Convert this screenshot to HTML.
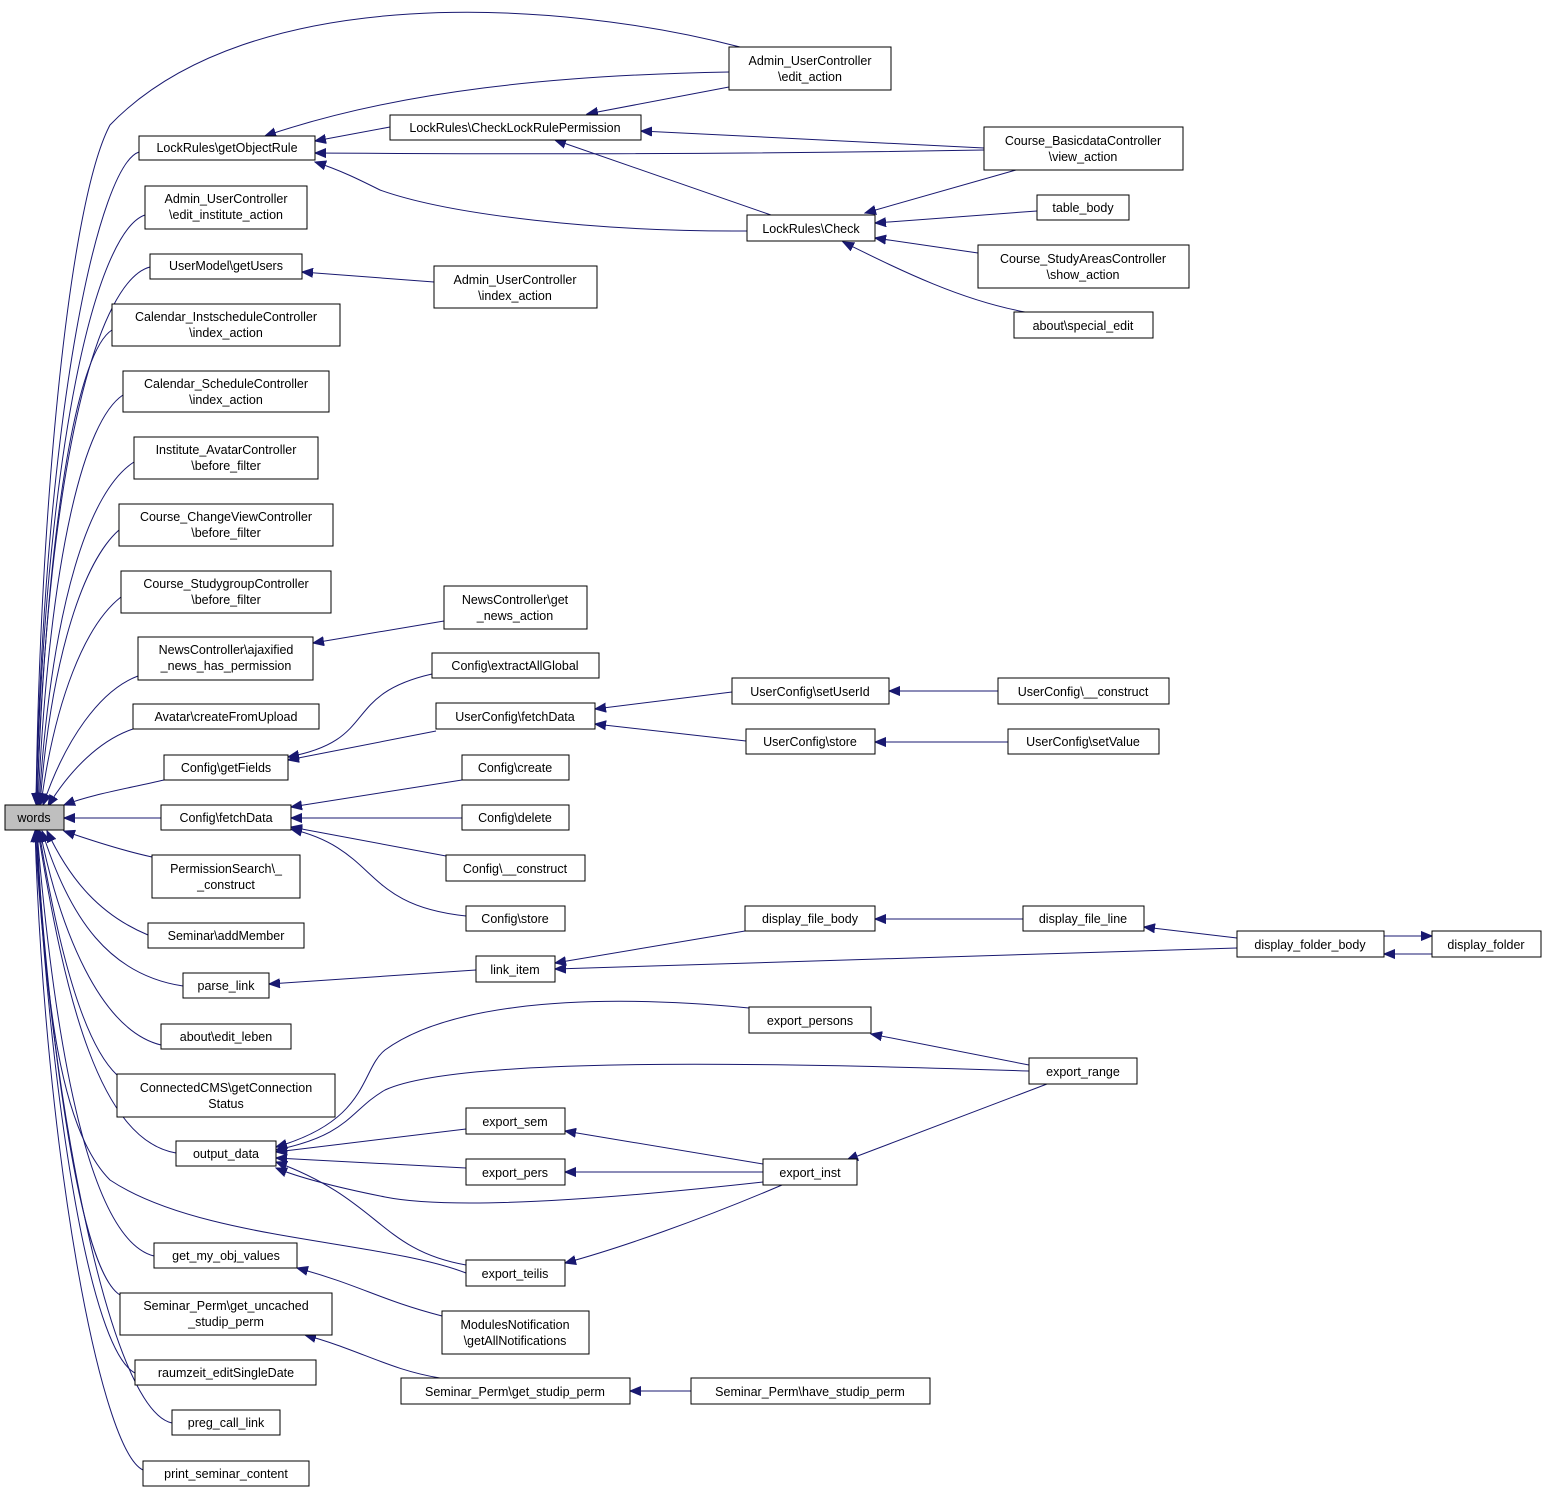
<!DOCTYPE html>
<html><head><meta charset="utf-8"><style>
html,body{margin:0;padding:0;background:#fff;}
svg{display:block;}
text{font-family:"Liberation Sans",sans-serif;font-size:12.5px;fill:#000;text-anchor:middle;}
.n{fill:#fff;stroke:#000;stroke-width:1;}
.e{fill:none;stroke:#191970;stroke-width:1;marker-end:url(#a);}
</style></head><body>
<svg width="1547" height="1493" viewBox="0 0 1547 1493" xmlns="http://www.w3.org/2000/svg">
<defs><marker id="a" markerWidth="12" markerHeight="10" refX="11" refY="5" orient="auto" markerUnits="userSpaceOnUse"><path d="M0,0.5 L11,5 L0,9.5 Z" fill="#191970" stroke="#191970"/></marker></defs>

<!-- edges to words -->
<path class="e" d="M740,47 C560,0 250,-20 110,125 C70,200 40,500 36,804"/>
<path class="e" d="M139,152 C100,165 45,400 36,804"/>
<path class="e" d="M145,215 C100,230 47,420 36,804"/>
<path class="e" d="M150,267 C100,280 48,450 37,804"/>
<path class="e" d="M112,330 C80,350 48,500 37,804"/>
<path class="e" d="M123,395 C85,420 50,550 38,804"/>
<path class="e" d="M134,462 C90,490 52,600 39,804"/>
<path class="e" d="M119,530 C85,560 52,650 40,804"/>
<path class="e" d="M121,597 C85,625 55,700 41,804"/>
<path class="e" d="M138,676 C100,690 65,740 43,805"/>
<path class="e" d="M133,729 C100,740 70,770 48,806"/>
<path class="e" d="M164,780 C120,790 90,795 64,805"/>
<path class="e" d="M161,818 L64,818"/>
<path class="e" d="M152,857 C120,850 90,840 64,831"/>
<path class="e" d="M148,935 C100,915 70,880 47,831"/>
<path class="e" d="M183,986 C110,975 70,920 42,831"/>
<path class="e" d="M161,1045 C100,1030 60,930 40,831"/>
<path class="e" d="M117,1075 C80,1040 55,930 39,831"/>
<path class="e" d="M176,1153 C100,1140 65,1000 38,831"/>
<path class="e" d="M466,1273 C380,1240 200,1240 110,1180 C60,1130 45,1000 37,831"/>
<path class="e" d="M154,1256 C90,1240 55,1050 37,831"/>
<path class="e" d="M120,1295 C80,1270 50,1050 36,831"/>
<path class="e" d="M135,1373 C90,1350 50,1100 36,831"/>
<path class="e" d="M172,1423 C110,1410 50,1100 35,831"/>
<path class="e" d="M143,1470 C100,1450 45,1150 35,831"/>

<!-- getObjectRule -->
<path class="e" d="M729,72 C560,75 400,90 265,136"/>
<path class="e" d="M390,127 L315,141"/>
<path class="e" d="M984,150 C700,155 500,154 315,153"/>
<path class="e" d="M747,231 C600,232 450,215 380,190 C360,180 340,170 315,162"/>
<!-- CheckLockRulePermission -->
<path class="e" d="M729,87 L587,114"/>
<path class="e" d="M984,148 L641,131"/>
<path class="e" d="M771,215 L555,140"/>
<!-- Check -->
<path class="e" d="M1016,170 L865,213"/>
<path class="e" d="M1037,211 L875,223"/>
<path class="e" d="M978,253 L875,238"/>
<path class="e" d="M1025,312 C960,300 900,270 843,242"/>
<!-- misc -->
<path class="e" d="M434,282 L302,272"/>
<path class="e" d="M444,621 L313,643"/>
<path class="e" d="M432,674 C340,695 380,740 288,757"/>
<path class="e" d="M436,731 L288,760"/>
<path class="e" d="M732,692 L595,709"/>
<path class="e" d="M746,741 L595,724"/>
<path class="e" d="M998,691 L889,691"/>
<path class="e" d="M1008,742 L875,742"/>
<path class="e" d="M462,780 L291,807"/>
<path class="e" d="M462,818 L291,818"/>
<path class="e" d="M446,856 L291,827"/>
<path class="e" d="M466,916 C360,905 380,850 291,829"/>
<path class="e" d="M476,970 L269,984"/>
<path class="e" d="M745,931 L555,963"/>
<path class="e" d="M1237,948 L555,969"/>
<path class="e" d="M1023,919 L875,919"/>
<path class="e" d="M1237,938 L1144,927"/>
<path class="e" d="M1384,936 L1432,936"/>
<path class="e" d="M1432,954 L1384,954"/>
<!-- output_data -->
<path class="e" d="M749,1008 C560,990 440,1010 385,1050 C360,1070 370,1120 276,1147"/>
<path class="e" d="M1029,1071 C700,1060 450,1060 385,1090 C350,1110 350,1135 276,1150"/>
<path class="e" d="M466,1129 L276,1152"/>
<path class="e" d="M466,1168 L276,1158"/>
<path class="e" d="M763,1182 C600,1200 450,1210 385,1197 C340,1188 300,1178 276,1168"/>
<path class="e" d="M466,1265 C380,1250 380,1200 276,1162"/>
<path class="e" d="M1029,1065 L871,1034"/>
<path class="e" d="M1047,1084 L847,1160"/>
<path class="e" d="M763,1164 L565,1131"/>
<path class="e" d="M763,1172 L565,1172"/>
<path class="e" d="M782,1185 C700,1220 620,1248 565,1263"/>
<path class="e" d="M442,1316 C380,1300 360,1285 297,1268"/>
<path class="e" d="M440,1378 C390,1370 360,1350 305,1335"/>
<path class="e" d="M691,1391 L630,1391"/>

<!-- nodes -->
<rect x="5" y="805" width="59" height="25" fill="#bfbfbf" stroke="#000"/><text x="34" y="822">words</text>
<rect class="n" x="139" y="136" width="176" height="24"/><text x="227" y="152">LockRules\getObjectRule</text>
<rect class="n" x="145" y="186" width="162" height="43"/><text x="226" y="203">Admin_UserController</text><text x="226" y="219">\edit_institute_action</text>
<rect class="n" x="150" y="254" width="152" height="25"/><text x="226" y="270">UserModel\getUsers</text>
<rect class="n" x="112" y="304" width="228" height="42"/><text x="226" y="321">Calendar_InstscheduleController</text><text x="226" y="337">\index_action</text>
<rect class="n" x="123" y="371" width="206" height="41"/><text x="226" y="388">Calendar_ScheduleController</text><text x="226" y="404">\index_action</text>
<rect class="n" x="134" y="437" width="184" height="42"/><text x="226" y="454">Institute_AvatarController</text><text x="226" y="470">\before_filter</text>
<rect class="n" x="119" y="504" width="214" height="42"/><text x="226" y="521">Course_ChangeViewController</text><text x="226" y="537">\before_filter</text>
<rect class="n" x="121" y="571" width="210" height="42"/><text x="226" y="588">Course_StudygroupController</text><text x="226" y="604">\before_filter</text>
<rect class="n" x="138" y="637" width="175" height="43"/><text x="226" y="654">NewsController\ajaxified</text><text x="226" y="670">_news_has_permission</text>
<rect class="n" x="133" y="704" width="186" height="25"/><text x="226" y="721">Avatar\createFromUpload</text>
<rect class="n" x="164" y="755" width="124" height="25"/><text x="226" y="772">Config\getFields</text>
<rect class="n" x="161" y="805" width="130" height="25"/><text x="226" y="822">Config\fetchData</text>
<rect class="n" x="152" y="855" width="148" height="43"/><text x="226" y="873">PermissionSearch\_</text><text x="226" y="889">_construct</text>
<rect class="n" x="148" y="923" width="156" height="25"/><text x="226" y="940">Seminar\addMember</text>
<rect class="n" x="183" y="973" width="86" height="25"/><text x="226" y="990">parse_link</text>
<rect class="n" x="161" y="1024" width="130" height="25"/><text x="226" y="1041">about\edit_leben</text>
<rect class="n" x="117" y="1074" width="218" height="43"/><text x="226" y="1092">ConnectedCMS\getConnection</text><text x="226" y="1108">Status</text>
<rect class="n" x="176" y="1141" width="100" height="25"/><text x="226" y="1158">output_data</text>
<rect class="n" x="154" y="1243" width="143" height="25"/><text x="226" y="1260">get_my_obj_values</text>
<rect class="n" x="120" y="1293" width="212" height="42"/><text x="226" y="1310">Seminar_Perm\get_uncached</text><text x="226" y="1326">_studip_perm</text>
<rect class="n" x="135" y="1360" width="181" height="25"/><text x="226" y="1377">raumzeit_editSingleDate</text>
<rect class="n" x="172" y="1410" width="108" height="25"/><text x="226" y="1427">preg_call_link</text>
<rect class="n" x="143" y="1461" width="166" height="25"/><text x="226" y="1478">print_seminar_content</text>

<rect class="n" x="390" y="115" width="251" height="25"/><text x="515" y="132">LockRules\CheckLockRulePermission</text>
<rect class="n" x="434" y="266" width="163" height="42"/><text x="515" y="284">Admin_UserController</text><text x="515" y="300">\index_action</text>
<rect class="n" x="444" y="586" width="143" height="43"/><text x="515" y="604">NewsController\get</text><text x="515" y="620">_news_action</text>
<rect class="n" x="432" y="653" width="167" height="25"/><text x="515" y="670">Config\extractAllGlobal</text>
<rect class="n" x="436" y="703" width="159" height="26"/><text x="515" y="721">UserConfig\fetchData</text>
<rect class="n" x="462" y="755" width="107" height="25"/><text x="515" y="772">Config\create</text>
<rect class="n" x="462" y="805" width="107" height="25"/><text x="515" y="822">Config\delete</text>
<rect class="n" x="446" y="855" width="139" height="26"/><text x="515" y="873">Config\__construct</text>
<rect class="n" x="466" y="906" width="99" height="25"/><text x="515" y="923">Config\store</text>
<rect class="n" x="476" y="956" width="79" height="26"/><text x="515" y="974">link_item</text>
<rect class="n" x="466" y="1108" width="99" height="26"/><text x="515" y="1126">export_sem</text>
<rect class="n" x="466" y="1159" width="99" height="26"/><text x="515" y="1177">export_pers</text>
<rect class="n" x="466" y="1260" width="99" height="26"/><text x="515" y="1278">export_teilis</text>
<rect class="n" x="442" y="1311" width="147" height="43"/><text x="515" y="1329">ModulesNotification</text><text x="515" y="1345">\getAllNotifications</text>
<rect class="n" x="401" y="1378" width="229" height="26"/><text x="515" y="1396">Seminar_Perm\get_studip_perm</text>

<rect class="n" x="729" y="47" width="162" height="43"/><text x="810" y="65">Admin_UserController</text><text x="810" y="81">\edit_action</text>
<rect class="n" x="747" y="215" width="128" height="26"/><text x="811" y="233">LockRules\Check</text>
<rect class="n" x="732" y="678" width="157" height="26"/><text x="810" y="696">UserConfig\setUserId</text>
<rect class="n" x="746" y="729" width="129" height="25"/><text x="810" y="746">UserConfig\store</text>
<rect class="n" x="745" y="906" width="130" height="25"/><text x="810" y="923">display_file_body</text>
<rect class="n" x="749" y="1007" width="122" height="26"/><text x="810" y="1025">export_persons</text>
<rect class="n" x="763" y="1159" width="94" height="26"/><text x="810" y="1177">export_inst</text>
<rect class="n" x="691" y="1378" width="239" height="26"/><text x="810" y="1396">Seminar_Perm\have_studip_perm</text>

<rect class="n" x="984" y="127" width="199" height="43"/><text x="1083" y="145">Course_BasicdataController</text><text x="1083" y="161">\view_action</text>
<rect class="n" x="1037" y="195" width="92" height="25"/><text x="1083" y="212">table_body</text>
<rect class="n" x="978" y="245" width="211" height="43"/><text x="1083" y="263">Course_StudyAreasController</text><text x="1083" y="279">\show_action</text>
<rect class="n" x="1014" y="312" width="139" height="26"/><text x="1083" y="330">about\special_edit</text>
<rect class="n" x="998" y="678" width="171" height="26"/><text x="1083" y="696">UserConfig\__construct</text>
<rect class="n" x="1008" y="729" width="151" height="25"/><text x="1083" y="746">UserConfig\setValue</text>
<rect class="n" x="1023" y="906" width="121" height="25"/><text x="1083" y="923">display_file_line</text>
<rect class="n" x="1029" y="1058" width="108" height="26"/><text x="1083" y="1076">export_range</text>
<rect class="n" x="1237" y="931" width="147" height="26"/><text x="1310" y="949">display_folder_body</text>
<rect class="n" x="1432" y="931" width="109" height="26"/><text x="1486" y="949">display_folder</text>
</svg>
</body></html>
